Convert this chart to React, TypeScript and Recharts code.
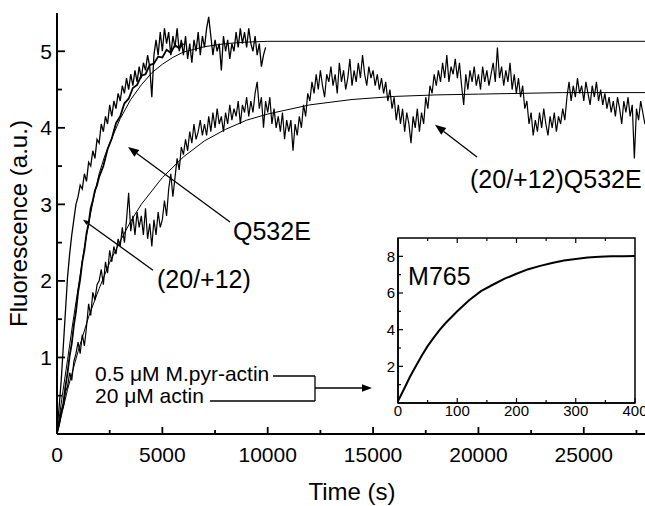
import React from 'react';
import { LineChart, Line, XAxis, YAxis, ReferenceLine, ReferenceDot, ReferenceArea } from 'recharts';

const FONT = '"Liberation Sans", Arial, Helvetica, sans-serif';

// ---------- DATA ----------
// (20/+12)Q532E noisy trace, sampled every 100 s from 0 to 28000 s
const SLOW_STEP = 100;
const slowTrace = [
  0.00, 0.15, 0.30, 0.35, 0.55, 0.62, 0.80, 0.70, 0.95, 1.05,
  1.20, 1.05, 1.30, 1.15, 1.40, 1.70, 1.55, 1.85, 1.75, 1.95,
  2.00, 2.15, 1.95, 2.25, 2.10, 2.40, 2.25, 2.45, 2.35, 2.55,
  2.45, 2.70, 2.50, 2.80, 3.15, 2.65, 2.85, 2.60, 2.90, 2.70,
  2.85, 2.60, 2.95, 2.55, 2.75, 2.45, 2.80, 2.60, 2.90, 2.70,
  2.80, 3.05, 2.85, 3.20, 3.40, 3.10, 3.35, 3.60, 3.45, 3.75,
  3.65, 3.85, 3.70, 3.95, 3.80, 4.05, 3.85, 3.95, 4.10, 3.90,
  4.05, 3.90, 4.15, 3.95, 4.20, 4.00, 4.25, 4.05, 4.15, 3.95,
  4.20, 4.05, 4.30, 4.10, 4.25, 4.15, 4.35, 4.05, 4.30, 4.20,
  4.40, 4.15, 4.35, 4.20, 4.45, 4.60, 4.25, 4.40, 4.00, 4.35,
  4.20, 4.40, 4.05, 4.25, 4.00, 4.15, 3.95, 4.20, 3.85, 4.10,
  3.95, 4.10, 3.70, 4.05, 3.90, 4.15, 4.00, 4.30, 4.15, 4.45,
  4.35, 4.60, 4.45, 4.70, 4.50, 4.75, 4.55, 4.40, 4.70, 4.60,
  4.80, 4.55, 4.70, 4.45, 4.85, 4.60, 4.75, 4.50, 4.65, 4.90,
  4.55, 4.75, 4.60, 4.85, 4.65, 4.95, 4.70, 4.55, 4.80, 4.65,
  4.75, 4.55, 4.70, 4.50, 4.65, 4.45, 4.60, 4.35, 4.50, 4.25,
  4.40, 4.10, 4.30, 4.05, 4.25, 3.95, 4.20, 4.05, 3.80, 4.15,
  4.00, 4.25, 3.95, 4.20, 4.05, 4.40, 4.25, 4.55, 4.45, 4.70,
  4.55, 4.75, 4.60, 4.85, 4.65, 4.95, 4.60, 4.80, 4.70, 4.90,
  4.65, 4.85, 4.55, 4.30, 4.70, 4.50, 4.75, 4.60, 4.80, 4.55,
  4.70, 4.50, 4.80, 4.60, 4.75, 4.55, 4.70, 4.85, 4.60, 5.05,
  4.65, 4.80, 4.55, 4.75, 4.60, 4.85, 4.50, 4.70, 4.45, 4.65,
  4.40, 4.55, 4.25, 4.35, 4.05, 4.20, 3.90, 4.10, 3.95, 4.20,
  4.00, 4.25, 4.05, 3.90, 4.15, 4.00, 4.20, 3.95, 4.15, 4.05,
  4.25, 4.10, 4.40, 4.60, 4.35, 4.55, 4.40, 4.65, 4.45, 4.55,
  4.35, 4.60, 4.45, 4.30, 4.55, 4.40, 4.60, 4.35, 4.50, 4.30,
  4.45, 4.25, 4.40, 4.20, 4.35, 4.15, 4.40, 4.25, 4.05, 4.35,
  4.20, 4.40, 4.15, 4.30, 3.60, 4.25, 4.10, 4.35, 4.20, 4.05,
  4.15,
];

// fast noisy trace, sampled every 100 s from 0 to 9900 s
const FAST_STEP = 100;
const fastTraceA = [
  0.05, 0.35, 0.70, 1.15, 1.60, 2.05, 2.35, 2.60, 2.80, 3.00,
  3.10, 3.25, 3.20, 3.40, 3.30, 3.55, 3.50, 3.70, 3.60, 3.85,
  3.80, 4.05, 3.95, 4.15, 4.05, 4.30, 4.15, 4.35, 4.25, 4.45,
  4.35, 4.55, 4.45, 4.65, 4.50, 4.70, 4.55, 4.75, 4.60, 4.80,
  4.65, 4.85, 4.75, 4.95, 4.80, 4.40, 4.95, 5.15, 4.95, 5.25,
  5.00, 5.30, 5.10, 5.25, 4.95, 5.20, 5.05, 5.30, 5.00, 5.15,
  4.95, 5.20, 4.90, 5.10, 4.85, 5.15, 5.00, 5.25, 4.95, 5.20,
  5.05, 5.30, 5.45, 5.20, 4.95, 5.15, 5.00, 5.10, 4.75, 5.20,
  5.00, 5.15, 4.90, 5.10, 5.00, 5.25, 5.05, 5.30, 5.10, 5.25,
  5.05, 5.30, 5.10, 5.00, 5.20, 4.95, 5.10, 4.80, 4.95, 5.05,
];

// second fast trace (low noise)
const fastTraceBTimes = [
  0, 100, 200, 300, 400, 500, 600, 700, 800, 900, 1000, 1100, 1200, 1300, 1400, 1500,
  1600, 1700, 1800, 1900, 2000, 2200, 2400, 2600, 2800, 3000, 3200, 3400, 3600, 3800,
  4000, 4200, 4400, 4600, 4800, 5000, 5200, 5400, 5600, 5800, 6000,
];
const fastTraceBValues = [
  0.02, 0.12, 0.28, 0.40, 0.62, 0.80, 1.02, 1.18, 1.42, 1.60, 1.85, 2.02, 2.25, 2.40, 2.62, 2.75,
  2.95, 3.05, 3.18, 3.25, 3.36, 3.50, 3.72, 3.86, 4.06, 4.15, 4.32, 4.38, 4.52, 4.56,
  4.68, 4.70, 4.82, 4.84, 4.93, 4.92, 5.02, 4.98, 5.08, 5.04, 5.10,
];

// fit of the fast (Q532E) kinetics
const fastFitTimes = [0, 250, 500, 750, 1000, 1250, 1500, 1750, 2000, 2250, 2500, 3000, 3500, 4000, 4500, 5000, 5500, 6000, 7000, 8000, 9000, 10000, 28000];
const fastFitValues = [0, 0.5, 0.97, 1.45, 1.9, 2.35, 2.75, 3.1, 3.4, 3.62, 3.8, 4.12, 4.37, 4.56, 4.72, 4.83, 4.92, 4.99, 5.06, 5.1, 5.12, 5.13, 5.13];

// fit of the slow ((20/+12)Q532E) kinetics
const slowFitTimes = [0, 500, 1000, 1500, 2000, 2500, 3000, 3500, 4000, 5000, 6000, 7000, 8000, 9000, 10000, 12000, 14000, 16000, 18000, 20000, 22000, 24000, 26000, 28000];
const slowFitValues = [0, 0.58, 1.08, 1.53, 1.9, 2.24, 2.52, 2.78, 3.0, 3.35, 3.62, 3.83, 3.98, 4.1, 4.18, 4.3, 4.37, 4.41, 4.43, 4.44, 4.45, 4.46, 4.46, 4.46];

// inset: M765
const insetTimes = [0, 10, 20, 30, 40, 50, 60, 70, 80, 90, 100, 120, 140, 160, 180, 200, 220, 240, 260, 280, 300, 320, 340, 360, 380, 400];
const insetValues = [0.1, 0.75, 1.42, 2.0, 2.58, 3.1, 3.55, 3.97, 4.35, 4.68, 5.0, 5.6, 6.1, 6.45, 6.78, 7.05, 7.3, 7.48, 7.64, 7.77, 7.86, 7.93, 7.98, 8.0, 8.01, 8.02];

// ticks
const xTicks = [0, 2500, 5000, 7500, 10000, 12500, 15000, 17500, 20000, 22500, 25000, 27500];
const xLabels = [0, 5000, 10000, 15000, 20000, 25000];
const yTicks = [0.5, 1, 1.5, 2, 2.5, 3, 3.5, 4, 4.5, 5];
const yLabels = [1, 2, 3, 4, 5];
const insetXTicks = [0, 50, 100, 150, 200, 250, 300, 350, 400];
const insetXLabels = [0, 100, 200, 300, 400];
const insetTopTicks = [50, 100, 150, 200, 250, 300, 350];
const insetYTicks = [1, 2, 3, 4, 5, 6, 7, 8];
const insetYLabels = [2, 4, 6, 8];
const INSET_X_MAX = 400;
const INSET_Y_MAX = 9;

// annotations (data coordinates)
const textNotes = [
  { t: 8353, v: 2.53, text: 'Q532E', size: 25 },
  { t: 4746, v: 1.91, text: '(20/+12)', size: 25 },
  { t: 19600, v: 3.21, text: '(20/+12)Q532E', size: 25 },
  { t: 1803, v: 0.69, text: '0.5 \u03BCM M.pyr-actin', size: 21 },
  { t: 1803, v: 0.405, text: '20 \u03BCM actin', size: 21 },
];
const arrowNotes = [
  { from: [8210, 2.77], to: [3370, 3.75], head: 11 },
  { from: [4556, 2.14], to: [1234, 2.8], head: 6 },
  { from: [19932, 3.62], to: [17939, 4.04], head: 11 },
  { from: [10251, 0.758], to: [12244, 0.758], head: 0 },
  { from: [12244, 0.758], to: [12244, 0.431], head: 0 },
  { from: [7261, 0.431], to: [12244, 0.431], head: 0 },
  { from: [12244, 0.601], to: [14949, 0.601], head: 10 },
];

// ---------- helpers ----------
const stepSeries = (values: number[], step: number) => values.map((v, i) => ({ t: i * step, v }));
const pairSeries = (times: number[], values: number[]) => times.map((t, i) => ({ t, v: values[i] }));

const slowData = stepSeries(slowTrace, SLOW_STEP);
const fastAData = stepSeries(fastTraceA, FAST_STEP);
const fastBData = pairSeries(fastTraceBTimes, fastTraceBValues);
const fastFitData = pairSeries(fastFitTimes, fastFitValues);
const slowFitData = pairSeries(slowFitTimes, slowFitValues);
const insetData = pairSeries(insetTimes, insetValues);

const bottomTick = (labels: number[], major: number, minor: number, fontSize: number, baseline: number, sw: number) =>
  (p: any) => {
    const val = p.payload.value;
    const isMajor = labels.includes(val);
    return (
      <g>
        <line x1={p.x} x2={p.x} y1={p.y} y2={p.y - (isMajor ? major : minor)} stroke="#000" strokeWidth={sw} />
        {isMajor && (
          <text x={p.x} y={p.y + baseline} textAnchor="middle" fontSize={fontSize} fontFamily={FONT} fill="#000">
            {val}
          </text>
        )}
      </g>
    );
  };

const topTick = (labels: number[], major: number, minor: number, sw: number) => (p: any) => {
  const isMajor = labels.includes(p.payload.value);
  return <line x1={p.x} x2={p.x} y1={p.y} y2={p.y + (isMajor ? major : minor)} stroke="#000" strokeWidth={sw} />;
};

const leftTick = (labels: number[], major: number, minor: number, fontSize: number, gap: number, sw: number) =>
  (p: any) => {
    const val = p.payload.value;
    const isMajor = labels.includes(val);
    return (
      <g>
        <line x1={p.x} x2={p.x + (isMajor ? major : minor)} y1={p.y} y2={p.y} stroke="#000" strokeWidth={sw} />
        {isMajor && (
          <text x={p.x - gap} y={p.y} dy="0.36em" textAnchor="end" fontSize={fontSize} fontFamily={FONT} fill="#000">
            {val}
          </text>
        )}
      </g>
    );
  };

const textShape = (text: string, size: number) => (p: any) => (
  <text x={p.cx} y={p.cy} fontSize={size} fontFamily={FONT} fill="#000">
    {text}
  </text>
);

const arrowShape = (head: number, sw = 1.3) => (p: any) => {
  const { x1, y1, x2, y2 } = p;
  if (!head) return <line x1={x1} y1={y1} x2={x2} y2={y2} stroke="#000" strokeWidth={sw} />;
  const a = Math.atan2(y2 - y1, x2 - x1);
  const w = head * 0.38;
  const bx = x2 - head * Math.cos(a);
  const by = y2 - head * Math.sin(a);
  const pts = `${x2},${y2} ${bx + w * Math.sin(a)},${by - w * Math.cos(a)} ${bx - w * Math.sin(a)},${by + w * Math.cos(a)}`;
  return (
    <g>
      <line x1={x1} y1={y1} x2={bx} y2={by} stroke="#000" strokeWidth={sw} />
      <polygon points={pts} fill="#000" />
    </g>
  );
};

const mainAxisLine = { stroke: '#000', strokeWidth: 2 };
const insetAxisLine = { stroke: '#000', strokeWidth: 1.5 };

export default function App() {
  return (
    <div style={{ position: 'absolute', left: 0, top: 0, width: 645, height: 506, overflow: 'hidden', background: '#fff' }}>
      <div style={{ position: 'absolute', left: 0, top: 0 }}>
        <LineChart width={660} height={506} margin={{ top: 13, right: 13, bottom: 0, left: 0 }}>
          <XAxis
            dataKey="t"
            type="number"
            domain={[0, 28000]}
            ticks={xTicks}
            interval={0}
            tickSize={0}
            tickMargin={0}
            height={72}
            axisLine={mainAxisLine}
            tickLine={false}
            tick={bottomTick(xLabels, 7, 4, 21, 28, 1.8)}
            allowDataOverflow
            label={{ value: 'Time (s)', position: 'insideBottom', offset: 6, fontSize: 24, fontFamily: FONT, fill: '#000' }}
          />
          <XAxis
            xAxisId="top"
            orientation="top"
            dataKey="t"
            type="number"
            domain={[0, 28000]}
            ticks={xTicks}
            interval={0}
            tickSize={0}
            tickMargin={0}
            height={0}
            axisLine={mainAxisLine}
            tickLine={false}
            tick={topTick(xLabels, 8, 5, 1.8)}
          />
          <YAxis
            type="number"
            domain={[0, 5.5]}
            ticks={yTicks}
            interval={0}
            tickSize={0}
            tickMargin={0}
            width={57}
            axisLine={mainAxisLine}
            tickLine={false}
            tick={leftTick(yLabels, 8, 5, 21, 5, 1.8)}
            allowDataOverflow
            label={{
              value: 'Fluorescence (a.u.)',
              angle: -90,
              position: 'insideLeft',
              offset: 18,
              textAnchor: 'middle',
              fontSize: 24,
              fontFamily: FONT,
              fill: '#000',
            }}
          />
          <Line data={slowFitData} dataKey="v" type="linear" stroke="#000" strokeWidth={1} dot={false} isAnimationActive={false} />
          <Line data={fastFitData} dataKey="v" type="linear" stroke="#000" strokeWidth={1} dot={false} isAnimationActive={false} />
          <Line data={slowData} dataKey="v" type="linear" stroke="#000" strokeWidth={1.2} dot={false} isAnimationActive={false} />
          <Line data={fastBData} dataKey="v" type="linear" stroke="#000" strokeWidth={1.8} dot={false} isAnimationActive={false} />
          <Line data={fastAData} dataKey="v" type="linear" stroke="#000" strokeWidth={1.3} dot={false} isAnimationActive={false} />
          {arrowNotes.map((a, i) => (
            <ReferenceLine
              key={'a' + i}
              segment={[{ x: a.from[0], y: a.from[1] }, { x: a.to[0], y: a.to[1] }]}
              ifOverflow="visible"
              shape={arrowShape(a.head)}
            />
          ))}
          {textNotes.map((n, i) => (
            <ReferenceDot key={'t' + i} x={n.t} y={n.v} r={0} ifOverflow="visible" shape={textShape(n.text, n.size)} />
          ))}
        </LineChart>
      </div>
      <div style={{ position: 'absolute', left: 370, top: 230 }}>
        <LineChart width={275} height={190} margin={{ top: 8, right: 10, bottom: 0, left: 0 }}>
          <XAxis
            dataKey="t"
            type="number"
            domain={[0, INSET_X_MAX]}
            ticks={insetXTicks}
            interval={0}
            tickSize={0}
            tickMargin={0}
            height={17}
            axisLine={insetAxisLine}
            tickLine={false}
            tick={bottomTick(insetXLabels, 5, 3, 15, 13, 1.2)}
          />
          <YAxis
            type="number"
            domain={[0, INSET_Y_MAX]}
            ticks={insetYTicks}
            interval={0}
            tickSize={0}
            tickMargin={0}
            width={28}
            axisLine={insetAxisLine}
            tickLine={false}
            tick={leftTick(insetYLabels, 5, 3, 15, 3, 1.2)}
          />
          <ReferenceArea
            x1={0}
            x2={INSET_X_MAX}
            y1={0}
            y2={INSET_Y_MAX}
            ifOverflow="visible"
            fill="none"
            fillOpacity={0}
            stroke="#000"
            strokeWidth={1.5}
          />
          {insetTopTicks.map((x) => (
            <ReferenceLine
              key={'it' + x}
              segment={[{ x, y: INSET_Y_MAX }, { x, y: INSET_Y_MAX - (insetXLabels.includes(x) ? 0.27 : 0.16) }]}
              ifOverflow="visible"
              shape={arrowShape(0, 1.2)}
            />
          ))}
          <Line data={insetData} dataKey="v" type="linear" stroke="#000" strokeWidth={2} dot={false} isAnimationActive={false} />
          <ReferenceDot x={17} y={6.45} r={0} ifOverflow="visible" shape={textShape('M765', 25)} />
        </LineChart>
      </div>
    </div>
  );
}
